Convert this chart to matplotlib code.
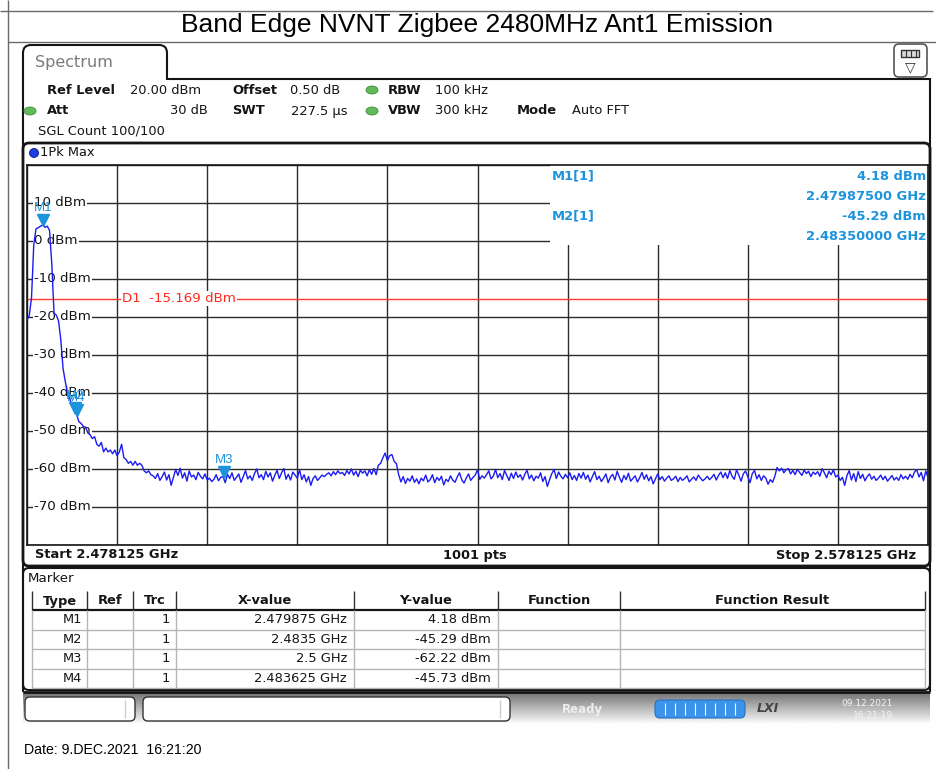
import numpy as np
import matplotlib
matplotlib.use('Agg')
import matplotlib.pyplot as plt
from matplotlib import patches, transforms

# sweep settings
start_ghz = 2.478125
stop_ghz = 2.578125
display_line = -15.169
grid_dbm = [10, 0, -10, -20, -30, -40, -50, -60, -70]

# 1Pk Max trace, 0.25 MHz steps from start to stop (dBm)
levels = [
    -20.8, -19.6, -15.0, -1.0, 3.2, 3.5, 3.9, 4.18, 3.6, 3.9,
    2.8, -6.0, -19.0, -19.5, -21.0, -26.0, -33.5, -37.0, -40.0, -41.5,
    -43.5, -44.8, -45.6, -47.5, -48.0, -48.8, -49.0, -50.5, -51.0, -52.0,
    -51.5, -53.5, -54.0, -53.0, -55.5, -54.5, -55.5, -55.0, -56.0, -55.0,
    -56.5, -55.5, -53.5, -57.0, -57.5, -58.5, -58.0, -59.0, -58.0, -59.0,
    -58.5, -59.0, -60.5, -61.0, -60.5, -61.5, -61.8, -62.5, -61.2, -63.0,
    -62.0, -60.8, -62.9, -61.5, -64.3, -62.2, -60.1, -61.7, -59.8, -62.4,
    -61.0, -63.2, -60.5, -62.1, -61.6, -62.8, -60.9, -61.9, -62.6, -61.3,
    -62.9, -62.4, -63.3, -62.7, -61.5, -63.1, -62.2, -62.0, -63.6, -61.4,
    -62.5, -61.0, -63.0, -62.2, -61.3, -63.5, -62.0, -60.4, -62.6, -61.8,
    -63.0, -61.2, -60.0, -62.3, -61.5, -62.8, -60.6, -62.1, -61.0, -63.2,
    -61.7, -60.3, -62.5, -61.0, -59.9, -62.7, -61.4, -62.9, -60.8, -61.6,
    -62.4, -60.2, -62.8, -61.5, -63.4, -62.0, -64.3, -62.5, -61.8, -63.0,
    -62.3, -61.6, -62.0, -61.4, -61.0, -61.8, -60.7, -61.5, -60.5, -61.2,
    -60.9, -61.7, -60.4, -61.3, -60.0, -61.6, -60.6, -62.0, -60.3, -61.1,
    -60.5, -61.8, -60.2, -61.4, -59.9, -61.5, -59.0, -58.5, -57.0, -55.8,
    -57.8, -56.5, -56.2, -58.0, -58.6, -61.5, -63.4, -62.0, -63.8, -62.5,
    -63.2, -61.8, -63.5, -62.6, -63.9, -62.4, -63.1, -61.6, -63.4, -62.8,
    -61.5, -63.6, -62.2, -63.0, -61.9, -64.2, -62.7, -63.3, -61.8, -62.9,
    -63.5, -62.1, -61.0, -62.8, -63.7, -62.4, -61.3, -63.0, -62.2, -61.6,
    -60.2, -62.7, -61.8, -62.4, -61.5, -60.5, -62.6, -61.9, -60.1, -62.3,
    -61.2, -62.8, -60.4, -61.7, -63.0, -61.1, -62.5, -60.8, -62.2, -61.5,
    -62.9, -61.4, -60.3, -62.6, -61.6, -63.1, -61.9, -62.4, -61.0, -63.3,
    -62.0, -64.6, -62.8, -61.2, -60.1, -62.5, -60.8, -61.9, -62.6, -61.4,
    -62.3, -61.0, -62.8, -61.7, -63.0, -61.2, -62.4, -60.9, -62.7, -61.6,
    -63.4, -62.0, -60.7, -62.8, -61.9, -63.3, -62.4, -61.3, -63.6, -62.1,
    -61.4, -62.9, -60.6, -62.2, -63.5, -61.7, -62.8, -61.1, -63.2, -62.5,
    -61.8, -63.4, -62.3, -60.9, -62.7, -61.5, -63.1, -62.0, -63.9, -62.6,
    -61.3, -62.8, -62.0, -63.2, -62.4, -61.8, -63.0, -62.6, -61.9, -63.3,
    -62.2, -63.0, -62.5, -61.8, -63.4, -62.7, -62.1, -63.0, -61.6, -62.4,
    -63.1, -62.6, -61.9, -62.8, -62.2, -61.4, -62.9, -61.7, -60.8, -62.3,
    -61.0, -62.5, -60.4, -61.9, -62.7, -60.2, -61.6, -63.2, -61.3, -60.5,
    -62.0, -63.6, -61.2, -60.4, -62.6, -61.5, -63.0, -61.8, -62.4, -64.0,
    -62.8, -63.5, -61.9, -59.6, -60.5, -59.8, -61.0, -60.2, -59.9, -61.3,
    -60.4, -61.5, -60.1, -60.9, -61.7, -60.3, -61.2, -60.6, -62.0, -60.8,
    -61.4, -60.7, -61.9, -59.9, -61.0, -62.3, -60.6, -61.5, -60.2, -62.1,
    -61.6, -63.0, -62.2, -64.3, -61.8, -60.4, -62.9, -61.2, -63.3, -60.7,
    -62.5, -61.4, -63.1, -62.0, -61.3, -62.7, -61.9, -63.0, -62.4, -61.6,
    -62.8, -61.9, -63.2, -62.5, -61.7, -62.9, -62.2, -63.0, -61.5, -62.6,
    -61.9, -62.7, -61.4, -62.3, -60.8, -60.2, -62.1, -60.9, -63.1, -60.5, -62.3,
]

marker_names = ['M1', 'M2', 'M3', 'M4']
marker_ghz = [2.479875, 2.4835, 2.5, 2.483625]
marker_dbm = [4.18, -45.29, -62.22, -45.73]

title = 'Band Edge NVNT Zigbee 2480MHz Ant1 Emission'

W, H = 937, 769
fig = plt.figure(figsize=(W / 100, H / 100), dpi=100)

# pixel-space layers behind and in front of the trace window
bg = fig.add_axes([0, 0, 1, 1], zorder=0)
bg.set_xlim(0, W)
bg.set_ylim(H, 0)
bg.axis('off')
fg = fig.add_axes([0, 0, 1, 1], zorder=3)
fg.set_xlim(0, W)
fg.set_ylim(H, 0)
fg.axis('off')

INK = '#151515'
MK = '#1d93dc'


def put(a, x, y, s, bold=False, ha='left', size=9.4, color=INK, **kw):
    a.text(x, y, s, ha=ha, va='center', fontsize=size, color=color,
           fontweight='bold' if bold else 'normal', **kw)


def hline(a, x0, x1, y, color=INK, lw=1.0):
    a.plot([x0, x1], [y, y], color=color, lw=lw, solid_capstyle='butt')


def vline(a, x, y0, y1, color=INK, lw=1.0):
    a.plot([x, x], [y0, y1], color=color, lw=lw, solid_capstyle='butt')


# document frame and title
vline(bg, 8.5, 0, H, color='#6a6a6a')
hline(bg, 0, 933, 10.5, color='#6a6a6a')
hline(bg, 8, 937, 41.5, color='#6a6a6a')
bg.text(477, 25, title, ha='center', va='center', fontsize=19,
        family='Liberation Sans', color='black')

# Spectrum tab and window outline
bg.add_patch(patches.FancyBboxPatch((23, 45), 144, 60, boxstyle='round,pad=0,rounding_size=8',
                                    fc='white', ec=INK, lw=1.5))
bg.add_patch(patches.Rectangle((24, 79), 905, 60, fc='white', ec='none', zorder=2))
hline(bg, 166, 930, 78.5, lw=1.5)
vline(bg, 23, 75, 692, lw=1.5)
vline(bg, 930, 78, 692, lw=1.5)
put(bg, 35, 62, 'Spectrum', size=11.5, color='#7a7a7a')

# display config icon
bg.add_patch(patches.FancyBboxPatch((894, 44), 33, 33, boxstyle='round,pad=0,rounding_size=5',
                                    fc='white', ec='#555555', lw=1.2))
bg.add_patch(patches.Rectangle((901, 50), 18, 7, fc='#d8d8d8', ec='#333333', lw=1))
for xx in (906, 911, 916):
    vline(bg, xx, 50, 57, color='#333333', lw=0.8)
put(bg, 910, 67, '\u25bd', ha='center', size=10, color='#333333')

# setting lines
put(bg, 47, 90, 'Ref Level', bold=True)
put(bg, 130, 90, '20.00 dBm')
put(bg, 232, 90, 'Offset', bold=True)
put(bg, 290, 90, '0.50 dB')
put(bg, 388, 90, 'RBW', bold=True)
put(bg, 435, 90, '100 kHz')
put(bg, 47, 111, 'Att', bold=True)
put(bg, 208, 111, '30 dB', ha='right')
put(bg, 232, 111, 'SWT', bold=True)
put(bg, 291, 111, '227.5 \u00b5s')
put(bg, 388, 111, 'VBW', bold=True)
put(bg, 435, 111, '300 kHz')
put(bg, 517, 111, 'Mode', bold=True)
put(bg, 572, 111, 'Auto FFT')
put(bg, 38, 131, 'SGL Count 100/100')
for cx, cy in ((372, 90), (372, 111), (30, 111)):
    bg.add_patch(patches.Ellipse((cx, cy), 12, 8, fc='#62b95a', ec='#3f8f3a', lw=0.6, zorder=3))

# trace window frame
bg.add_patch(patches.FancyBboxPatch((23, 143), 907, 423, boxstyle='round,pad=0,rounding_size=6',
                                    fc='white', ec=INK, lw=2, zorder=3))
bg.add_patch(patches.Circle((34, 153), 4.5, fc='#1f3de0', ec='#0a1a80', lw=0.6, zorder=4))
put(bg, 40, 153, '1Pk Max', zorder=4)
put(bg, 35, 555, 'Start 2.478125 GHz', bold=True, zorder=4)
put(bg, 475, 555, '1001 pts', bold=True, ha='center', zorder=4)
put(bg, 916, 555, 'Stop 2.578125 GHz', bold=True, ha='right', zorder=4)

# trace diagram
L, R, T, B = 27, 928, 165, 545
ax = fig.add_axes([L / W, 1 - B / H, (R - L) / W, (B - T) / H], zorder=2)
ax.set_xlim(start_ghz, stop_ghz)
ax.set_ylim(-80, 20)
ax.set_xticks(np.linspace(start_ghz, stop_ghz, 11))
ax.set_yticks(np.arange(-80, 21, 10))
ax.tick_params(length=0, labelbottom=False, labelleft=False)
ax.set_axisbelow(True)
ax.grid(True, color='#2b2b2b', lw=1)
for s in ax.spines.values():
    s.set_color(INK)
    s.set_linewidth(1.2)


def px_to_ax(x):
    return (x - L) / (R - L)


# blank area for the marker readout
ax.add_patch(patches.Rectangle((px_to_ax(550), (B - 245) / (B - T)), 1 - px_to_ax(550),
                               (245 - T) / (B - T), transform=ax.transAxes,
                               fc='white', ec='none', zorder=1))

ylab = transforms.blended_transform_factory(ax.transAxes, ax.transData)
for v in grid_dbm:
    ax.text(px_to_ax(34), v, f'{v} dBm', transform=ylab, ha='left', va='center',
            fontsize=9.6, color=INK, zorder=2,
            bbox=dict(fc='white', ec='none', pad=1.0))

ax.axhline(display_line, color='#ff3b30', lw=1, zorder=2.5)
ax.text(px_to_ax(122), display_line, f'D1  {display_line:.3f} dBm', transform=ylab,
        ha='left', va='center', fontsize=9.6, color='#ff2a1f', zorder=2.6,
        bbox=dict(fc='white', ec='none', pad=0.6))

freqs = np.linspace(start_ghz, stop_ghz, len(levels))
ax.plot(freqs, levels, color='#1b1bf2', lw=1.0, zorder=4)

tri = transforms.offset_copy(ax.transData, fig=fig, x=0, y=5, units='dots')
lab = transforms.offset_copy(ax.transData, fig=fig, x=0, y=17, units='dots')
for name, f, v in zip(marker_names, marker_ghz, marker_dbm):
    ax.plot([f], [v], marker='v', ms=8, color=MK, mec=MK, transform=tri, zorder=5, clip_on=False)
    ax.text(f, v, name, transform=lab, ha='center', va='center', fontsize=9.5,
            color=MK, zorder=5, family='Liberation Sans')

# marker readout lines (M1, M2)
for k, row_y in ((0, 176), (1, 216)):
    put(fg, 552, row_y, f'{marker_names[k]}[1]', bold=True, color=MK)
    put(fg, 926, row_y, f'{marker_dbm[k]:.2f} dBm', bold=True, ha='right', color=MK)
    put(fg, 926, row_y + 20, f'{marker_ghz[k]:.8f} GHz', bold=True, ha='right', color=MK)

# marker table
bg.add_patch(patches.FancyBboxPatch((23, 568), 907, 122, boxstyle='round,pad=0,rounding_size=6',
                                    fc='white', ec=INK, lw=1.5, zorder=1))
put(bg, 28, 579, 'Marker', size=9.6)
cols = [32, 87, 133, 176, 354, 498, 620, 925]
heads = ['Type', 'Ref', 'Trc', 'X-value', 'Y-value', 'Function', 'Function Result']
for i, h in enumerate(heads):
    put(bg, (cols[i] + cols[i + 1]) / 2, 601, h, bold=True, ha='center')
for x in cols:
    vline(bg, x, 591, 610, color='#333333')
hline(bg, 32, 925, 610, lw=1.6)
row_ys = [610, 629.5, 649, 668.5, 688]
for y in row_ys[1:]:
    hline(bg, 32, 925, y, color='#b5b5b5')
for x in cols:
    vline(bg, x, 610, 688, color='#b5b5b5')
for r, (name, f, v) in enumerate(zip(marker_names, marker_ghz, marker_dbm)):
    yc = (row_ys[r] + row_ys[r + 1]) / 2
    put(bg, 82, yc, name, ha='right')
    put(bg, 170, yc, '1', ha='right')
    put(bg, 347, yc, f'{f} GHz', ha='right')
    put(bg, 491, yc, f'{v:.2f} dBm', ha='right')

# status bar
shade = np.linspace(0.45, 0.97, 30)[:, None] * np.ones((30, 2))
bg.imshow(shade, cmap='gray', vmin=0, vmax=1, extent=(23, 930, 723, 692), aspect='auto', zorder=1)
hline(bg, 23, 930, 692, lw=2)
for x0, w in ((25, 110), (143, 367)):
    bg.add_patch(patches.FancyBboxPatch((x0, 697), w, 24, boxstyle='round,pad=0,rounding_size=5',
                                        fc='white', ec='#333333', lw=1, zorder=2))
    vline(bg, x0 + w - 10, 700, 718, color='#cccccc')
put(bg, 582, 709, 'Ready', bold=True, ha='center', size=8.5, color='#eeeeee')
bg.add_patch(patches.FancyBboxPatch((655, 700), 90, 18, boxstyle='round,pad=0,rounding_size=5',
                                    fc='#3c93ea', ec='#2a70c0', lw=0.8, zorder=2))
for k in range(1, 9):
    vline(bg, 655 + k * 10, 703, 715, color='white', lw=0.8)
bg.text(768, 709, 'LXI', ha='center', va='center', fontsize=9, fontweight='bold',
        style='italic', color='#444444')
put(bg, 893, 703, '09.12.2021', ha='right', size=6.5, color='#f4f4f4')
put(bg, 893, 716, '16:21:19', ha='right', size=6.5, color='#f4f4f4')

bg.text(24, 750, 'Date: 9.DEC.2021  16:21:20', ha='left', va='center', fontsize=10.2,
        family='Liberation Sans', color='black')

fig.savefig('out.png', dpi=100)
